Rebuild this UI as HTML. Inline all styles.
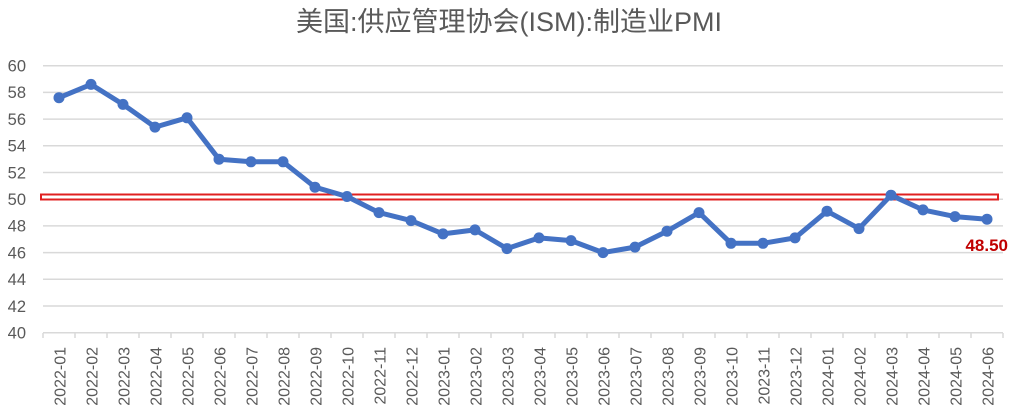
<!DOCTYPE html>
<html><head><meta charset="utf-8"><style>
html,body{margin:0;padding:0;background:#fff;}
svg{display:block;}
text{font-family:"Liberation Sans","Noto Sans CJK SC",sans-serif;fill:#595959;}
</style></head><body>
<svg width="1015" height="415" viewBox="0 0 1015 415" xmlns="http://www.w3.org/2000/svg">
<text x="509" y="31" text-anchor="middle" font-size="27" style="font-family:'Liberation Sans','Noto Sans CJK SC',sans-serif">美国:供应管理协会(ISM):制造业PMI</text>
<g stroke="#d9d9d9" stroke-width="1.5">
<line x1="43" x2="1003" y1="65.7" y2="65.7"/>
<line x1="43" x2="1003" y1="92.4" y2="92.4"/>
<line x1="43" x2="1003" y1="119.1" y2="119.1"/>
<line x1="43" x2="1003" y1="145.8" y2="145.8"/>
<line x1="43" x2="1003" y1="172.5" y2="172.5"/>
<line x1="43" x2="1003" y1="199.2" y2="199.2"/>
<line x1="43" x2="1003" y1="225.9" y2="225.9"/>
<line x1="43" x2="1003" y1="252.6" y2="252.6"/>
<line x1="43" x2="1003" y1="279.3" y2="279.3"/>
<line x1="43" x2="1003" y1="306" y2="306"/>
<line x1="43" x2="1003" y1="332.7" y2="332.7"/>
<path d="M43 333v5M75 333v5M107 333v5M139 333v5M171 333v5M203 333v5M235 333v5M267 333v5M299 333v5M331 333v5M363 333v5M395 333v5M427 333v5M459 333v5M491 333v5M523 333v5M555 333v5M587 333v5M619 333v5M651 333v5M683 333v5M715 333v5M747 333v5M779 333v5M811 333v5M843 333v5M875 333v5M907 333v5M939 333v5M971 333v5M1003 333v5"/>
</g>
<g font-size="16.5" text-anchor="end">
<text x="26" y="71.5">60</text><text x="26" y="98.2">58</text><text x="26" y="124.9">56</text>
<text x="26" y="151.6">54</text><text x="26" y="178.3">52</text><text x="26" y="205">50</text>
<text x="26" y="231.7">48</text><text x="26" y="258.4">46</text><text x="26" y="285.1">44</text>
<text x="26" y="311.8">42</text><text x="26" y="338.5">40</text>
</g>
<rect x="41" y="194.5" width="957" height="5" fill="none" stroke="#e02020" stroke-width="2"/>
<polyline fill="none" stroke="#4472C4" stroke-width="5" stroke-linejoin="round" points="59,97.7 91,84.4 123,104.4 155,127.1 187,117.8 219,159.2 251,161.8 283,161.8 315,187.2 347,196.5 379,212.6 411,220.6 443,233.9 475,229.9 507,248.6 539,237.9 571,240.6 603,252.6 635,247.1 667,231.2 699,212.6 731,243.3 763,243.3 795,237.9 827,211.2 859,228.6 891,195.2 923,209.9 955,216.6 987,219.2"/>
<g fill="#4472C4">
<circle cx="59" cy="97.7" r="5.5"/><circle cx="91" cy="84.4" r="5.5"/><circle cx="123" cy="104.4" r="5.5"/><circle cx="155" cy="127.1" r="5.5"/><circle cx="187" cy="117.8" r="5.5"/><circle cx="219" cy="159.2" r="5.5"/><circle cx="251" cy="161.8" r="5.5"/><circle cx="283" cy="161.8" r="5.5"/><circle cx="315" cy="187.2" r="5.5"/><circle cx="347" cy="196.5" r="5.5"/><circle cx="379" cy="212.6" r="5.5"/><circle cx="411" cy="220.6" r="5.5"/><circle cx="443" cy="233.9" r="5.5"/><circle cx="475" cy="229.9" r="5.5"/><circle cx="507" cy="248.6" r="5.5"/><circle cx="539" cy="237.9" r="5.5"/><circle cx="571" cy="240.6" r="5.5"/><circle cx="603" cy="252.6" r="5.5"/><circle cx="635" cy="247.1" r="5.5"/><circle cx="667" cy="231.2" r="5.5"/><circle cx="699" cy="212.6" r="5.5"/><circle cx="731" cy="243.3" r="5.5"/><circle cx="763" cy="243.3" r="5.5"/><circle cx="795" cy="237.9" r="5.5"/><circle cx="827" cy="211.2" r="5.5"/><circle cx="859" cy="228.6" r="5.5"/><circle cx="891" cy="195.2" r="5.5"/><circle cx="923" cy="209.9" r="5.5"/><circle cx="955" cy="216.6" r="5.5"/><circle cx="987" cy="219.2" r="5.5"/>
</g>
<text x="1008" y="251" text-anchor="end" font-size="17" font-weight="bold" style="fill:#C00000">48.50</text>
<g font-size="16" text-anchor="end">
<text transform="translate(65.5,347) rotate(-90)">2022-01</text>
<text transform="translate(97.5,347) rotate(-90)">2022-02</text>
<text transform="translate(129.5,347) rotate(-90)">2022-03</text>
<text transform="translate(161.5,347) rotate(-90)">2022-04</text>
<text transform="translate(193.5,347) rotate(-90)">2022-05</text>
<text transform="translate(225.5,347) rotate(-90)">2022-06</text>
<text transform="translate(257.5,347) rotate(-90)">2022-07</text>
<text transform="translate(289.5,347) rotate(-90)">2022-08</text>
<text transform="translate(321.5,347) rotate(-90)">2022-09</text>
<text transform="translate(353.5,347) rotate(-90)">2022-10</text>
<text transform="translate(385.5,347) rotate(-90)">2022-11</text>
<text transform="translate(417.5,347) rotate(-90)">2022-12</text>
<text transform="translate(449.5,347) rotate(-90)">2023-01</text>
<text transform="translate(481.5,347) rotate(-90)">2023-02</text>
<text transform="translate(513.5,347) rotate(-90)">2023-03</text>
<text transform="translate(545.5,347) rotate(-90)">2023-04</text>
<text transform="translate(577.5,347) rotate(-90)">2023-05</text>
<text transform="translate(609.5,347) rotate(-90)">2023-06</text>
<text transform="translate(641.5,347) rotate(-90)">2023-07</text>
<text transform="translate(673.5,347) rotate(-90)">2023-08</text>
<text transform="translate(705.5,347) rotate(-90)">2023-09</text>
<text transform="translate(737.5,347) rotate(-90)">2023-10</text>
<text transform="translate(769.5,347) rotate(-90)">2023-11</text>
<text transform="translate(801.5,347) rotate(-90)">2023-12</text>
<text transform="translate(833.5,347) rotate(-90)">2024-01</text>
<text transform="translate(865.5,347) rotate(-90)">2024-02</text>
<text transform="translate(897.5,347) rotate(-90)">2024-03</text>
<text transform="translate(929.5,347) rotate(-90)">2024-04</text>
<text transform="translate(961.5,347) rotate(-90)">2024-05</text>
<text transform="translate(993.5,347) rotate(-90)">2024-06</text>
</g>
</svg>
</body></html>
